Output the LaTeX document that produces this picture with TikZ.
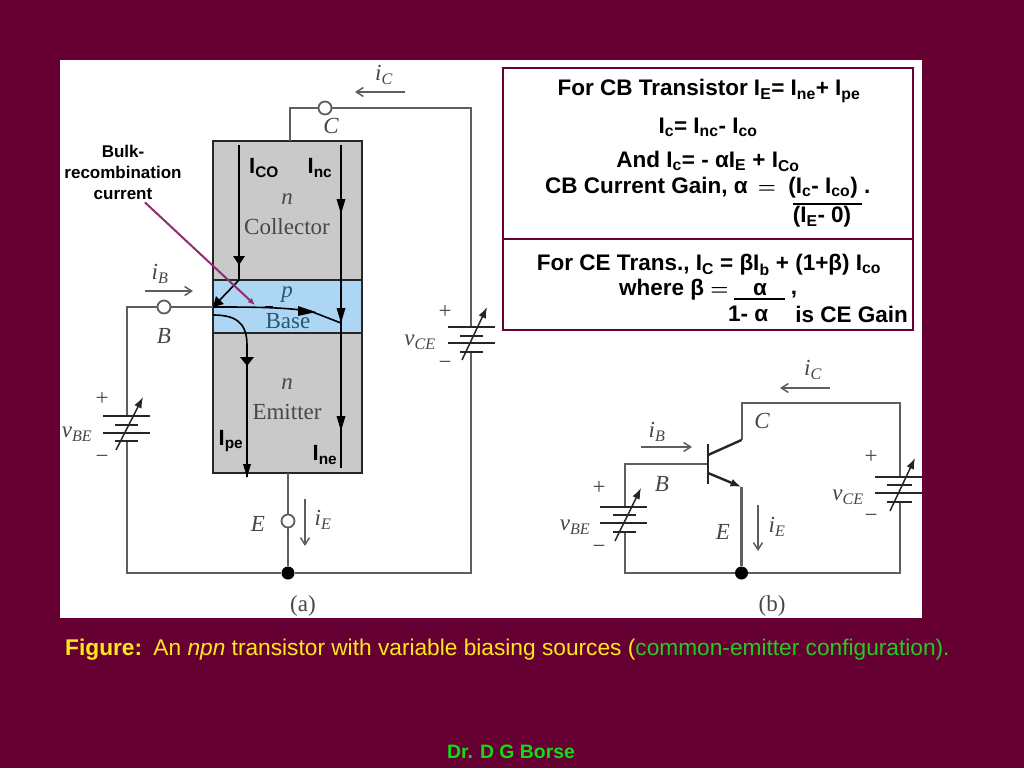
\documentclass[tikz,border=0pt]{standalone}
\usepackage{fontspec}
\setmainfont{Liberation Sans}
\newfontfamily\figfont{Liberation Serif}
\usetikzlibrary{arrows.meta}
\definecolor{VMaroon}{HTML}{660033}
\definecolor{VWire}{HTML}{5E5E5E}
\definecolor{VBody}{HTML}{C9C9C9}
\definecolor{VBand}{HTML}{ACD6F3}
\definecolor{VBase}{HTML}{2A5575}
\definecolor{VBulk}{HTML}{8E2F6C}
\definecolor{VYellow}{HTML}{FFE81A}
\definecolor{VGreen}{HTML}{22CC22}
\definecolor{VFoot}{HTML}{11DD11}
\definecolor{VLabel}{HTML}{474747}
\newcommand{\lb}[1]{\textsubscript{#1}}
\newcommand{\beq}{{\boldmath$=$}}
\tikzset{
    wire/.style = {draw=VWire, line width=2pt},
    plate/.style = {draw=black!85, line width=2.2pt},
    flow/.style = {draw=black, line width=1.6pt},
    knob/.style = {draw=black!85, line width=1.5pt, -{Latex[length=11pt,width=8pt]}},
    iarrow/.style = {draw=VWire, line width=1.5pt, -{Straight Barb[length=7pt,width=9pt]}},
    term/.style = {circle, draw=VWire, line width=1.8pt, fill=white, minimum size=13pt, inner sep=0pt},
    junction/.style = {circle, fill=black, minimum size=13pt, inner sep=0pt},
    sym/.style = {font=\figfont\itshape\fontsize{23}{25}\selectfont, text=VLabel, inner sep=0pt},
    region/.style = {font=\figfont\fontsize{23}{25}\selectfont, text=VLabel, inner sep=0pt},
    note/.style = {font=\bfseries\fontsize{17}{21}\selectfont, align=center, inner sep=0pt},
    cur/.style = {font=\bfseries\fontsize{22}{24}\selectfont, inner sep=0pt},
    eqn/.style = {font=\bfseries\fontsize{22.5}{25}\selectfont, inner sep=0pt}
}
\begin{document}
\begin{tikzpicture}[x=1pt,y=-1pt]
    \useasboundingbox (0,0) rectangle (1024,768);
    \fill[VMaroon] (0,0) rectangle (1024,768);
    \fill[white] (60,60) rectangle (922,618);

    % text boxes
    \draw[VMaroon,line width=2pt] (503,68) rectangle (913,330);
    \draw[VMaroon,line width=2pt] (503,239) -- (913,239);
    \node[eqn] (eqE) at (709,91) {For CB Transistor I\lb{E}= I\lb{ne}+ I\lb{pe}};
    \node[eqn] (eqC) at (708,127) {I\lb{c}= I\lb{nc}- I\lb{co}};
    \node[eqn] (eqA) at (708,161) {And I\lb{c}= - αI\lb{E} + I\lb{Co}};
    \node[eqn,anchor=west] (eqG) at (545,188) {CB Current Gain, α \,\beq\;\;(I\lb{c}- I\lb{co}) .};
    \node[eqn] (eqD) at (822,217) {(I\lb{E}- 0)};
    \draw[black,line width=1.6pt] (793,204) -- (862,204);
    \node[eqn] (eqT) at (709,265) {For CE Trans., I\lb{C} = βI\lb{b} + (1+β) I\lb{co}};
    \node[eqn,anchor=west] (eqB) at (619,290) {where β \beq};
    \node[eqn] (eqN) at (760,290) {α};
    \node[eqn] (eqK) at (794,295) {,};
    \draw[black,line width=1.6pt] (734,299) -- (785,299);
    \node[eqn,anchor=west] (eqM) at (728,314) {1- α};
    \node[eqn,anchor=east] (eqH) at (908,314) {is CE Gain};

    % transistor body
    \fill[VBody] (213,141) rectangle (362,473);
    \fill[VBand] (213,280) rectangle (362,333);
    \draw[black!85,line width=2.4pt] (213,141) rectangle (362,473);
    \draw[black!85,line width=1.8pt] (213,280) -- (362,280);
    \draw[black!85,line width=1.8pt] (213,333) -- (362,333);
    \node[sym] (nC) at (287,199) {n};
    \node[region] (tC) at (287,227) {Collector};
    \node[sym,text=VBase] (pB) at (287,295) {p};
    \node[region,text=VBase] (tB) at (288,321) {Base};
    \node[sym] (nE) at (287,384) {n};
    \node[region] (tE) at (287,412) {Emitter};

    % circuit (a)
    \node[term] (C) at (325,108) {};
    \node[term] (B) at (164,307) {};
    \node[term] (E) at (288,521) {};
    \node[junction] (J) at (288,573) {};
    \coordinate (Ctop) at (290,141);
    \coordinate (Cbend) at (290,108);
    \coordinate (Rtop) at (471,108);
    \coordinate (Rbot) at (471,573);
    \coordinate (Lbot) at (127,573);
    \coordinate (Ltop) at (127,307);
    \coordinate (Bin) at (213,307);
    \coordinate (Eout) at (288,473);
    \draw[wire] (Ctop) -- (Cbend) -- (C);
    \draw[wire] (C) -- (Rtop) -- (471,327);
    \draw[wire] (471,352) -- (Rbot) -- (J);
    \draw[wire] (B) -- (Bin);
    \draw[wire] (B) -- (Ltop) -- (127,416);
    \draw[wire] (127,441) -- (Lbot) -- (J);
    \draw[wire] (Eout) -- (E);
    \draw[wire] (E) -- (J);
    \draw[plate] (448,327) -- (495,327);
    \draw[plate] (460,336) -- (483,336);
    \draw[plate] (448,343) -- (495,343);
    \draw[plate] (460,352) -- (483,352);
    \draw[knob] (462,360) -- (487,307);
    \draw[plate] (103,416) -- (150,416);
    \draw[plate] (115,425) -- (138,425);
    \draw[plate] (103,433) -- (150,433);
    \draw[plate] (115,441) -- (138,441);
    \draw[knob] (116,450) -- (143,397);

    \node[sym] (lC) at (331,126) {C};
    \node[sym] (lB) at (164,336) {B};
    \node[sym] (lE) at (258,524) {E};
    \node[sym] (liC) at (384,75) {i\textsubscript{C}};
    \node[sym] (liB) at (160,274) {i\textsubscript{B}};
    \node[sym] (liE) at (323,520) {i\textsubscript{E}};
    \node[sym] (lvce) at (420,342) {v\textsubscript{CE}};
    \node[sym] (lvbe) at (77,434) {v\textsubscript{BE}};
    \node[region] (pc) at (445,312) {+};
    \node[region] (mc) at (445,365) {−};
    \node[region] (pb) at (102,399) {+};
    \node[region] (mb) at (102,459) {−};
    \node[region] (capa) at (303,606) {(a)};
    \draw[iarrow] (405,92) -- (355,92);
    \draw[iarrow] (145,291) -- (193,291);
    \draw[iarrow] (305,499) -- (305,546);

    % carrier flows
    \draw[flow] (239,145) -- (239,280) -- (214,306);
    \fill[black] (233,256) -- (245,256) -- (239,265) -- cycle;
    \fill[black] (213,307) -- (216,296) -- (224,304) -- cycle;
    \draw[flow] (213,307) .. controls (250,307) and (280,307) .. (310,311) -- (341,323);
    \fill[black] (298,306) -- (316,312) -- (298,316) -- cycle;
    \draw[black,line width=2pt] (265,307) -- (273,307);
    \draw[flow] (213,315) .. controls (235,315) and (247,322) .. (247,345) -- (247,477);
    \fill[black] (240,357) -- (254,357) -- (247,366) -- cycle;
    \fill[black] (243,464) -- (251,464) -- (247,477) -- cycle;
    \draw[black,line width=2.2pt] (341,145) -- (341,468);
    \foreach \ty in {213,322,430}
        \fill[black] (336.5,\ty-14) -- (345.5,\ty-14) -- (341,\ty+1) -- cycle;
    \node[cur] (Ico) at (264,168) {I\lb{CO}};
    \node[cur] (Inc) at (320,168) {I\lb{nc}};
    \node[cur] (Ipe) at (231,441) {I\lb{pe}};
    \node[cur] (Ine) at (325,455) {I\lb{ne}};

    % bulk note
    \node[note] (bulk) at (123,172) {Bulk-\\recombination\\current};
    \draw[VBulk,line width=2pt,-{Latex[length=7pt,width=6pt]}] (bulk.south) ++(22,3) -- (255,305);

    % circuit (b)
    \coordinate (tbB) at (708,464);
    \coordinate (tbC) at (741.5,440);
    \coordinate (tbE) at (741.5,487);
    \coordinate (bTopL) at (741.5,403);
    \coordinate (bTopR) at (900,403);
    \coordinate (bBotR) at (900,573);
    \coordinate (bBotL) at (625,573);
    \coordinate (bLeft) at (625,464);
    \node[junction] (Jb) at (741.5,573) {};
    \draw[wire] (tbC) -- (bTopL) -- (bTopR) -- (900,477);
    \draw[wire] (900,502) -- (bBotR) -- (Jb);
    \draw[wire] (tbB) -- (bLeft) -- (625,507);
    \draw[wire] (625,532) -- (bBotL) -- (Jb);
    \draw[wire,line width=2.4pt] (tbE) -- (Jb);
    \draw[black!85,line width=2.6pt] (708,444) -- (708,484);
    \draw[black!85,line width=2.4pt] (708,455) -- (tbC);
    \draw[black!85,line width=2.4pt,-{Latex[length=11pt,width=8pt]}] (708,473) -- (tbE);
    \draw[plate] (875,477) -- (922,477);
    \draw[plate] (887,485) -- (912,485);
    \draw[plate] (875,493) -- (922,493);
    \draw[plate] (887,502) -- (912,502);
    \draw[knob] (890,511) -- (915,458);
    \draw[plate] (600,507) -- (647,507);
    \draw[plate] (613,515) -- (636,515);
    \draw[plate] (600,523) -- (647,523);
    \draw[plate] (613,532) -- (636,532);
    \draw[knob] (615,541) -- (641,488);

    \node[sym] (bC) at (762,421) {C};
    \node[sym] (bB) at (662,484) {B};
    \node[sym] (bE) at (723,532) {E};
    \node[sym] (biC) at (813,370) {i\textsubscript{C}};
    \node[sym] (biB) at (657,432) {i\textsubscript{B}};
    \node[sym] (biE) at (777,527) {i\textsubscript{E}};
    \node[sym] (bvce) at (848,497) {v\textsubscript{CE}};
    \node[sym] (bvbe) at (575,527) {v\textsubscript{BE}};
    \node[region] (bpc) at (871,457) {+};
    \node[region] (bmc) at (871,518) {−};
    \node[region] (bpb) at (599,488) {+};
    \node[region] (bmb) at (599,549) {−};
    \node[region] (capb) at (772,606) {(b)};
    \draw[iarrow] (830,388) -- (780,388);
    \draw[iarrow] (641,447) -- (692,447);
    \draw[iarrow] (758,505) -- (758,551);

    % caption
    \node[anchor=west,inner sep=0pt,font=\fontsize{22.7}{25}\selectfont,text=VYellow] (cap) at (65,650)
        {\textbf{Figure:}\enspace An \textit{npn} transistor with variable biasing sources (\textcolor{VGreen}{common-emitter configuration).}};
    \node[inner sep=0pt,font=\bfseries\fontsize{19.4}{21}\selectfont,text=VFoot] (foot) at (511,752) {Dr. D G Borse};
\end{tikzpicture}
\end{document}
